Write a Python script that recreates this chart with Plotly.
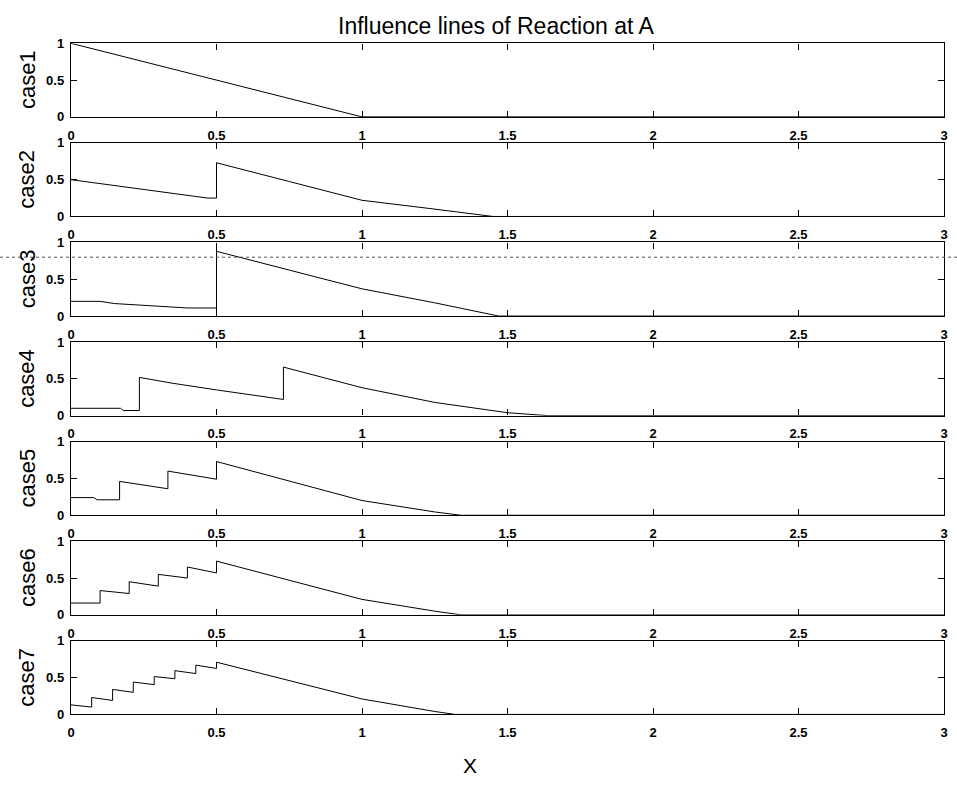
import plotly.graph_objects as go

# ---------------- data ----------------
case_names = ["case1", "case2", "case3", "case4", "case5", "case6", "case7"]

case1_x = [0.0, 1.0, 3.0]
case1_y = [1.0, 0.0, 0.0]

case2_x = [0.0, 0.47, 0.5, 0.5, 0.75, 1.0, 1.25, 1.45, 3.0]
case2_y = [0.50, 0.25, 0.25, 0.73, 0.475, 0.22, 0.10, 0.0, 0.0]

case3_x = [0.0, 0.10, 0.15, 0.30, 0.40, 0.5, 0.5, 0.5, 0.5, 0.75, 1.0, 1.25, 1.47, 3.0]
case3_y = [0.20, 0.20, 0.17, 0.14, 0.11, 0.11, 0.0, 0.97, 0.88, 0.625, 0.37, 0.18, 0.0, 0.0]

case4_x = [0.0, 0.17, 0.18, 0.235, 0.235, 0.35, 0.5, 0.68, 0.73, 0.73, 1.0, 1.25, 1.5, 1.64, 3.0]
case4_y = [0.10, 0.10, 0.07, 0.07, 0.52, 0.44, 0.35, 0.25, 0.22, 0.66, 0.38, 0.18, 0.04, 0.0, 0.0]

case5_x = [0.0, 0.078, 0.09, 0.167, 0.167, 0.25, 0.333, 0.333, 0.5, 0.5, 0.75, 1.0, 1.25, 1.34, 3.0]
case5_y = [0.24, 0.24, 0.21, 0.21, 0.46, 0.41, 0.36, 0.60, 0.49, 0.73, 0.46, 0.20, 0.045, 0.0, 0.0]

case6_x = [0.0, 0.1, 0.1, 0.2, 0.2, 0.3, 0.3, 0.4, 0.4, 0.5, 0.5, 0.75, 1.0, 1.25, 1.34, 3.0]
case6_y = [0.16, 0.16, 0.33, 0.29, 0.45, 0.39, 0.55, 0.50, 0.65, 0.57, 0.73, 0.47, 0.21, 0.05, 0.0, 0.0]

case7_x = [0.0, 0.071, 0.071, 0.143, 0.143, 0.214, 0.214, 0.286, 0.286, 0.357, 0.357,
           0.429, 0.429, 0.5, 0.5, 0.75, 1.0, 1.25, 1.32, 3.0]
case7_y = [0.13, 0.10, 0.23, 0.19, 0.34, 0.30, 0.44, 0.405, 0.515, 0.485, 0.595,
           0.555, 0.67, 0.625, 0.71, 0.46, 0.21, 0.04, 0.0, 0.0]

xs = [case1_x, case2_x, case3_x, case4_x, case5_x, case6_x, case7_x]
ys = [case1_y, case2_y, case3_y, case4_y, case5_y, case6_y, case7_y]

x_tickvals = [0, 0.5, 1, 1.5, 2, 2.5, 3]
x_ticktext = ["0", "0.5", "1", "1.5", "2", "2.5", "3"]
y_tickvals = [0, 0.5, 1]
y_ticktext = ["0", "0.5", "1"]

title_text = "Influence lines of Reaction at A"
x_label = "X"

# ---------------- layout geometry ----------------
W, H = 957, 797
ML, MR = 71, 13
PW = W - ML - MR
panel_top0 = 37
panel_step = 101.5
panel_h = 75

fig = go.Figure()
font_family = "Liberation Sans, Arial, Helvetica, sans-serif"
tickfont = dict(family=font_family, size=13, color="black", weight="bold")

annotations = []
for i in range(7):
    n = "" if i == 0 else str(i + 1)
    top = panel_top0 + panel_step * i
    bot = top + panel_h
    fig.add_trace(go.Scatter(
        x=xs[i], y=ys[i], mode="lines",
        line=dict(color="black", width=1),
        xaxis="x" + n, yaxis="y" + n, showlegend=False, hoverinfo="skip"))
    fig.layout["xaxis" + n] = dict(
        domain=[0, 1], anchor="y" + n, range=[0, 3],
        tickvals=x_tickvals, ticktext=x_ticktext,
        ticks="inside", ticklen=6, tickwidth=1, tickcolor="black",
        showline=True, linecolor="black", linewidth=1.4, mirror="ticks",
        showgrid=False, zeroline=False, tickfont=tickfont,
        ticklabelstandoff=6, fixedrange=True)
    fig.layout["yaxis" + n] = dict(
        domain=[1 - bot / H, 1 - top / H], anchor="x" + n, range=[0, 1],
        tickvals=y_tickvals, ticktext=y_ticktext,
        ticks="inside", ticklen=6, tickwidth=1, tickcolor="black",
        showline=True, linecolor="black", linewidth=1.4, mirror="ticks",
        showgrid=False, zeroline=False, tickfont=tickfont,
        ticklabelstandoff=3, fixedrange=True)
    annotations.append(dict(
        text=case_names[i], xref="paper", yref="paper",
        x=(27 - ML) / PW, y=1 - (top + panel_h / 2) / H,
        textangle=-90, showarrow=False, xanchor="center", yanchor="middle",
        font=dict(family=font_family, size=22, color="black")))

annotations.append(dict(
    text=title_text, xref="paper", yref="paper",
    x=(496 - ML) / PW, y=1 - 19 / H, showarrow=False,
    xanchor="center", yanchor="middle",
    font=dict(family=font_family, size=23, color="black")))
annotations.append(dict(
    text=x_label, xref="paper", yref="paper",
    x=(470 - ML) / PW, y=1 - 773 / H, showarrow=False,
    xanchor="center", yanchor="middle",
    font=dict(family=font_family, size=21, color="black")))

fig.update_layout(
    width=W, height=H,
    margin=dict(l=ML, r=MR, t=0, b=0, pad=0),
    paper_bgcolor="white", plot_bgcolor="white",
    annotations=annotations,
    shapes=[dict(type="line", xref="paper", yref="paper",
                 x0=-ML / PW, x1=(W - ML) / PW,
                 y0=1 - 255 / H, y1=1 - 255 / H,
                 line=dict(color="#555555", width=1, dash="dot"))],
)

fig.write_html("out.html")
